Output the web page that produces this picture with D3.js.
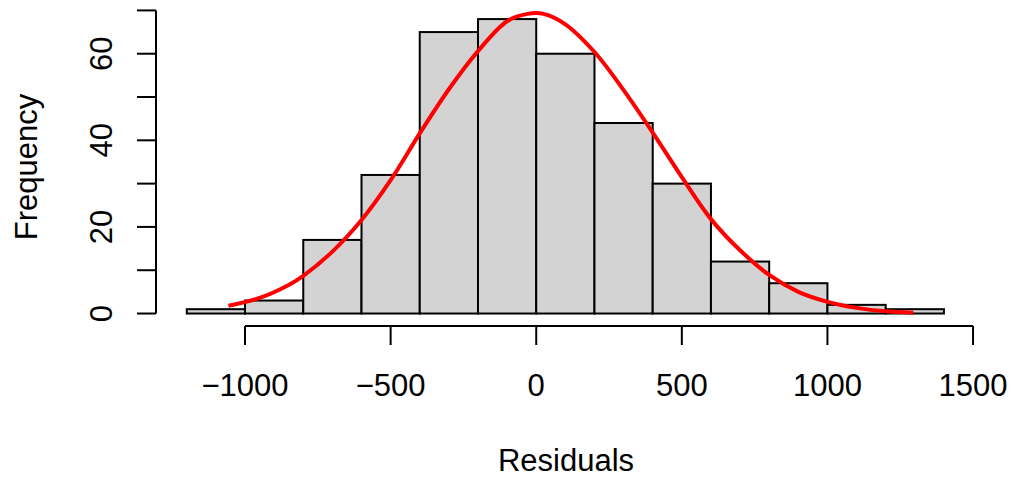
<!DOCTYPE html>
<html>
<head>
<meta charset="utf-8">
<script src="https://cdn.jsdelivr.net/npm/d3@7"></script>
<style>
  html, body { margin: 0; padding: 0; background: #fff; }
  svg text { font-family: "Liberation Sans", Arial, sans-serif; }
</style>
</head>
<body>
<div id="chart"></div>
<script>
// histogram bins (left edges, width 200) and counts
const binStarts = [-1200, -1000, -800, -600, -400, -200, 0, 200, 400, 600, 800, 1000, 1200];
const binWidth = 200;
const counts = [1, 3, 17, 32, 65, 68, 60, 44, 30, 12, 7, 2, 1];

// red curve
const curveX = [-1057, -950, -850, -800, -700, -600, -500, -400, -300, -200, -100, -30, 25, 100, 200, 300, 400, 500, 600, 700, 800, 900, 1000, 1100, 1200, 1295];
const curveY = [1.8, 3.6, 6.6, 8.7, 14.3, 21.6, 30.8, 41.6, 51.8, 60.6, 67.5, 69.2, 69.2, 66.8, 60.4, 51.6, 41.8, 31.5, 21.8, 14.6, 8.9, 5.0, 2.7, 1.3, 0.5, 0.2];

const xTicks = [-1000, -500, 0, 500, 1000, 1500];
const yTicks = [0, 10, 20, 30, 40, 50, 60, 70];
const yLabels = [0, 20, 40, 60];

const W = 1014, H = 478;
const fs = 31;

const svg = d3.select("#chart").append("svg")
  .attr("width", W)
  .attr("height", H);

// R style usr range (4% padding)
const x = d3.scaleLinear().domain([-1304, 1504]).range([156.5, 974.2]);
const y = d3.scaleLinear().domain([-2.72, 70.72]).range([325.3, 7.3]);

// bars
svg.append("g")
  .selectAll("rect")
  .data(counts)
  .enter().append("rect")
  .attr("x", (d, i) => x(binStarts[i]))
  .attr("width", (d, i) => x(binStarts[i] + binWidth) - x(binStarts[i]))
  .attr("y", d => y(d))
  .attr("height", d => y(0) - y(d))
  .attr("fill", "#d3d3d3")
  .attr("stroke", "#000")
  .attr("stroke-width", 2);

// fitted curve
const pts = curveX.map((v, i) => [v, curveY[i]]);
svg.append("path")
  .datum(pts)
  .attr("fill", "none")
  .attr("stroke", "#ff0000")
  .attr("stroke-width", 4)
  .attr("d", d3.line()
    .x(d => x(d[0]))
    .y(d => y(d[1]))
    .curve(d3.curveCatmullRom));

// x axis
const xAxisY = 326;
const gx = svg.append("g").attr("stroke", "#000").attr("stroke-width", 2);
gx.append("line")
  .attr("x1", x(xTicks[0])).attr("x2", x(xTicks[xTicks.length - 1]))
  .attr("y1", xAxisY).attr("y2", xAxisY);
gx.selectAll("line.tick")
  .data(xTicks)
  .enter().append("line")
  .attr("class", "tick")
  .attr("x1", d => x(d)).attr("x2", d => x(d))
  .attr("y1", xAxisY).attr("y2", xAxisY + 19);
svg.append("g")
  .selectAll("text")
  .data(xTicks)
  .enter().append("text")
  .attr("x", d => x(d))
  .attr("y", 396)
  .attr("text-anchor", "middle")
  .attr("font-size", fs)
  .text(d => d < 0 ? "\u2212" + Math.abs(d) : d);

// y axis
const yAxisX = 156;
const gy = svg.append("g").attr("stroke", "#000").attr("stroke-width", 2);
gy.append("line")
  .attr("x1", yAxisX).attr("x2", yAxisX)
  .attr("y1", y(yTicks[0])).attr("y2", y(yTicks[yTicks.length - 1]));
gy.selectAll("line.tick")
  .data(yTicks)
  .enter().append("line")
  .attr("class", "tick")
  .attr("x1", yAxisX - 19).attr("x2", yAxisX)
  .attr("y1", d => y(d)).attr("y2", d => y(d));
svg.append("g")
  .selectAll("text")
  .data(yLabels)
  .enter().append("text")
  .attr("transform", d => "translate(112," + y(d) + ") rotate(-90)")
  .attr("text-anchor", "middle")
  .attr("font-size", fs)
  .text(d => d);

// axis titles
svg.append("text")
  .attr("x", 566)
  .attr("y", 471)
  .attr("text-anchor", "middle")
  .attr("font-size", fs)
  .text("Residuals");

svg.append("text")
  .attr("transform", "translate(37,167) rotate(-90)")
  .attr("text-anchor", "middle")
  .attr("font-size", fs)
  .text("Frequency");
</script>
</body>
</html>
